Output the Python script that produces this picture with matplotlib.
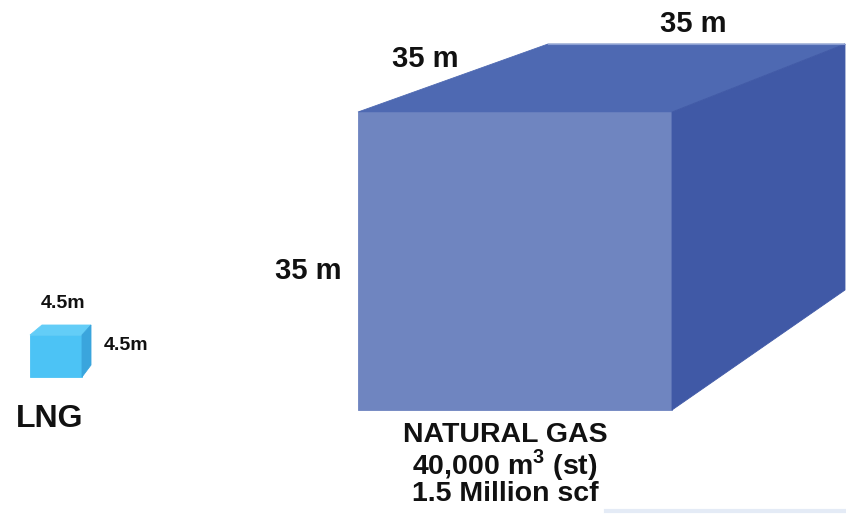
import matplotlib
matplotlib.use("Agg")
import matplotlib.pyplot as plt
from matplotlib.patches import Polygon

plt.rcParams["font.family"] = ["Liberation Sans", "DejaVu Sans"]
plt.rcParams["mathtext.fontset"] = "custom"
plt.rcParams["mathtext.rm"] = "Liberation Sans:bold"
plt.rcParams["mathtext.bf"] = "Liberation Sans:bold"

# Cube edge lengths (metres) and captions
lng_side = 4.5
gas_side = 35
gas_volume = "40,000"
gas_scf = "1.5 Million scf"
lng_label = "LNG"
gas_label = "NATURAL GAS"

# Face colours: front, top, right
lng_colors = ["#4cc3f5", "#63cdf7", "#3aa5dd"]
gas_colors = ["#6f85c0", "#4e69b2", "#4059a6"]

W, H = 846, 516
fig = plt.figure(figsize=(W / 100, H / 100), dpi=100)
ax = fig.add_axes([0, 0, 1, 1])
ax.set_xlim(0, W)
ax.set_ylim(H, 0)
ax.axis("off")


def draw_cube(x0, y0, side, scale_x, scale_y, back_left, back_right, rise, drop, colors):
    """Oblique cube: front face of side*scale plus receding top and right faces."""
    x1 = x0 + side * scale_x
    y1 = y0 + side * scale_y
    yb = y0 - rise
    front = [(x0, y0), (x1, y0), (x1, y1), (x0, y1)]
    top = [(x0, y0), (x0 + back_left, yb), (x1 + back_right, yb), (x1, y0)]
    right = [(x1, y0), (x1 + back_right, yb), (x1 + back_right, y1 - drop), (x1, y1)]
    for poly, c in zip([front, top, right], colors):
        ax.add_patch(Polygon(poly, closed=True, facecolor=c, edgecolor=c, lw=0.6))


# Large natural-gas cube
draw_cube(358, 112, gas_side, 314 / gas_side, 298 / gas_side,
          190, 173, 68, 120, gas_colors)
# Small LNG cube
draw_cube(30, 335, lng_side, 52 / lng_side, 42 / lng_side,
          12, 9, 10, 12, lng_colors)

# faint highlight along the back top edge of the large cube
ax.plot([548, 845], [44, 44], color="#8da0d3", lw=0.8)

bold = dict(fontweight="bold", color="#111111", ha="center", va="center")
side_txt = f"{gas_side} m"
ax.text(425, 59, side_txt, fontsize=21, **bold)
ax.text(693, 24, side_txt, fontsize=21, **bold)
ax.text(308, 271, side_txt, fontsize=21, **bold)

lng_txt = f"{lng_side}m"
ax.text(63, 303, lng_txt, fontsize=14, **bold)
ax.text(126, 346, lng_txt, fontsize=14, **bold)
ax.text(50, 419, lng_label, fontsize=23, **bold)

ax.text(505, 435, gas_label, fontsize=20.5, **bold)
ax.text(505, 465, gas_volume + r" m$^{3}$ (st)", fontsize=20.5, **bold)
ax.text(505, 494, gas_scf, fontsize=20.5, **bold)

# faint band at the lower right edge
ax.plot([606, 846], [511, 511], color="#e4ebf6", lw=3)

fig.savefig("out.png", dpi=100)
